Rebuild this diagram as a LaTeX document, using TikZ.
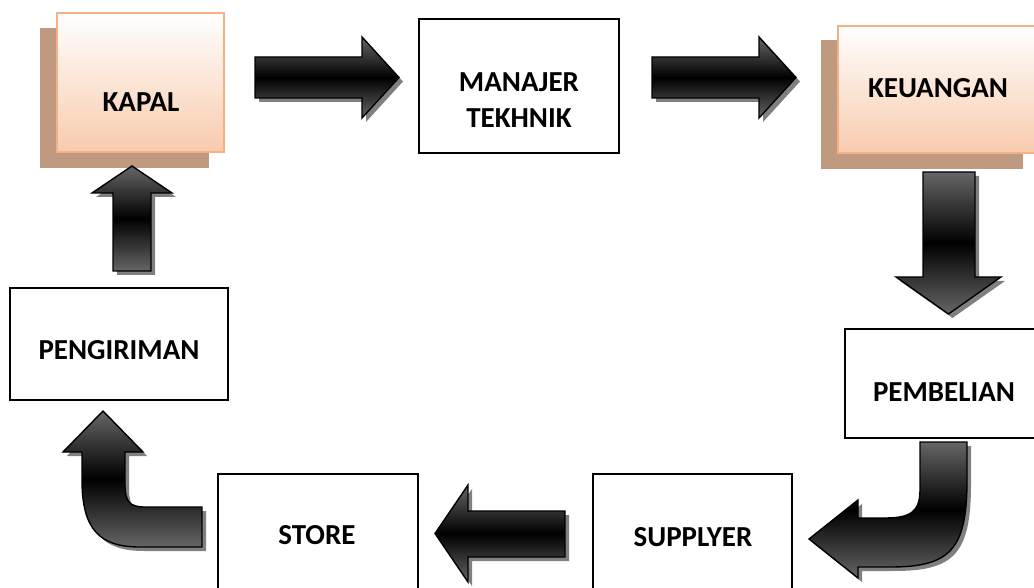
\documentclass[tikz,border=0pt]{standalone}
\usepackage{fontspec}
\setmainfont{Carlito}
\definecolor{peachline}{RGB}{244,177,131}
\definecolor{peachfill}{RGB}{248,203,173}
\definecolor{boxshadow}{RGB}{191,154,128}
\definecolor{arrowgray}{RGB}{102,102,102}
\definecolor{arrowshade}{RGB}{128,128,128}
\tikzset{
  plainbox/.style={draw=black, line width=1.4pt, fill=white, inner sep=0pt},
  peachbox/.style={draw=peachline, line width=1.8pt, top color=white, bottom color=peachfill, inner sep=0pt},
  lbl/.style={font=\fontsize{29}{35}\selectfont\bfseries, inner sep=0pt, anchor=base},
  arrowbody/.style={draw=black, line width=1.4pt, line join=miter, top color=arrowgray, bottom color=arrowgray, middle color=black},
  arrowshadow/.style={fill=arrowshade, draw=none},
}
\newcommand\blkarrow[1]{\path[arrowshadow, shift={(4,4)}] #1; \path[arrowbody] #1;}
\begin{document}
\begin{tikzpicture}[x=1pt, y=-1pt]
\clip (0,0) rectangle (1034,588);
\fill[white] (0,0) rectangle (1034,588);
% shadows of peach boxes
\fill[boxshadow] (40,28) rectangle (209,168);
\fill[boxshadow] (821,40) rectangle (1023,169);
% boxes
\node[peachbox, minimum width=167pt, minimum height=139pt] (kapal) at (140.5,82.5) {};
\node[plainbox, minimum width=200pt, minimum height=134pt] (manajer) at (519,86) {};
\node[peachbox, minimum width=202pt, minimum height=127pt] (keuangan) at (939,89.5) {};
\node[plainbox, minimum width=198pt, minimum height=109pt] (pembelian) at (944,383.5) {};
\node[plainbox, minimum width=199pt, minimum height=126pt] (supplyer) at (692.5,537) {};
\node[plainbox, minimum width=200pt, minimum height=126pt] (store) at (318,537) {};
\node[plainbox, minimum width=218pt, minimum height=112pt] (pengiriman) at (119,344) {};
% labels
\node[lbl] (tkapal) at (141,112) {KAPAL};
\node[lbl] (tmanajer) at (519,92) {MANAJER};
\node[lbl] (ttekhnik) at (519,128) {TEKHNIK};
\node[lbl] (tkeuangan) at (938,98) {KEUANGAN};
\node[lbl] (tpembelian) at (944,401) {PEMBELIAN};
\node[lbl] (tsupplyer) at (693,546) {SUPPLYER};
\node[lbl] (tstore) at (317,544) {STORE};
\node[lbl] (tpengiriman) at (119,359) {PENGIRIMAN};
% block arrows
\blkarrow{(255,57) -- (362,57) -- (362,37) -- (399,77.5) -- (362,118) -- (362,98) -- (255,98) -- cycle}
\blkarrow{(652,57) -- (759,57) -- (759,37) -- (796,77.5) -- (759,118) -- (759,98) -- (652,98) -- cycle}
\blkarrow{(923,172) -- (975,172) -- (975,277) -- (1001,277) -- (948.5,314) -- (896,277) -- (923,277) -- cycle}
\blkarrow{(920,442) -- (967,442) -- (967,480) .. controls (967,550) and (950,567) .. (890,567) -- (858,567) -- (858,578) -- (809,539) -- (858,500) -- (858,518) -- (885,518) .. controls (910,518) and (920,512) .. (920,490) -- cycle}
\blkarrow{(565,511) -- (468,511) -- (468,485) -- (435,533.5) -- (468,582) -- (468,557) -- (565,557) -- cycle}
\blkarrow{(202,507) -- (145,507) .. controls (130,507) and (125,502) .. (125,485) -- (125,452) -- (143,452) -- (103,411) -- (63,452) -- (82,452) -- (82,480) .. controls (82,530) and (100,547) .. (140,547) -- (202,547) -- cycle}
\blkarrow{(113,271) -- (113,193) -- (92,193) -- (132,166) -- (172,193) -- (151,193) -- (151,271) -- cycle}
\end{tikzpicture}
\end{document}
